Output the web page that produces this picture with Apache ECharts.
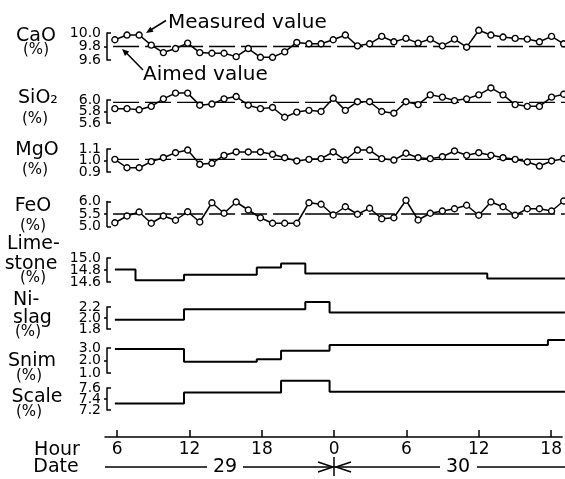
<!DOCTYPE html>
<html><head><meta charset="utf-8">
<script src="https://cdn.jsdelivr.net/npm/echarts@6/dist/echarts.min.js"></script>
<style>html,body{margin:0;padding:0;background:#fff}#c{width:565px;height:479px}</style>
</head><body><div id="c"></div>
<script>
// measurement hours (hours from 0:00 on the 29th)
const hours = [5.8,6.8,7.8,8.8,9.8,10.8,11.8,12.8,13.8,14.8,15.8,16.8,17.8,18.8,19.8,20.8,21.8,22.8,23.8,24.8,25.8,26.8,27.8,28.8,29.8,30.8,31.8,32.8,33.8,34.8,35.8,36.8,37.8,38.8,39.8,40.8,41.8,42.8];
const caoValues = [9.90,9.97,9.97,9.82,9.71,9.77,9.85,9.71,9.70,9.70,9.65,9.77,9.64,9.64,9.72,9.86,9.84,9.84,9.90,9.97,9.81,9.84,9.95,9.87,9.92,9.85,9.91,9.81,9.91,9.79,10.04,9.97,9.94,9.92,9.91,9.87,9.95,9.84];
const sio2Values = [5.85,5.85,5.83,5.89,6.02,6.12,6.12,5.91,5.93,6.02,6.06,5.91,5.85,5.87,5.70,5.79,5.82,5.80,6.03,5.82,5.97,5.97,5.80,5.77,5.97,5.92,6.09,6.05,5.99,6.02,6.09,6.21,6.09,5.92,5.89,5.89,6.05,6.10];
const mgoValues = [1.010,0.937,0.937,0.990,1.024,1.068,1.091,0.967,0.976,1.045,1.074,1.074,1.074,1.054,1.024,0.996,1.010,1.016,1.074,1.004,1.091,1.091,1.016,1.004,1.063,1.024,1.016,1.033,1.083,1.045,1.068,1.045,1.024,1.010,0.987,0.952,0.996,1.016];
const feoValues = [5.15,5.42,5.58,5.13,5.42,5.25,5.59,5.18,5.95,5.53,5.98,5.66,5.35,5.13,5.13,5.13,5.95,5.89,5.46,5.79,5.49,5.73,5.31,5.35,6.05,5.26,5.53,5.62,5.71,5.85,5.45,5.98,5.79,5.45,5.71,5.71,5.62,6.02];
const aimed = {CaO: 9.80, SiO2: 5.96, MgO: 1.01, FeO: 5.5};
const aimedSpan = [5.65, 42.9];

// step inputs: change hours and levels
const limestoneHours = [5.8,7.5,11.5,17.5,19.5,21.5,36.5,42.9];
const limestoneValues = [14.81,14.63,14.72,14.84,14.91,14.74,14.66,14.66];
const nislagHours = [5.8,11.5,21.5,23.5,42.9];
const nislagValues = [1.97,2.16,2.29,2.10,2.10];
const snimHours = [5.8,11.5,17.5,19.5,23.5,41.5,42.9];
const snimValues = [2.92,1.91,2.10,2.79,3.24,3.64,3.64];
const scaleHours = [5.8,11.5,19.5,23.5,42.9];
const scaleValues = [7.32,7.52,7.73,7.53,7.53];

// y tick labels per panel (min, mid, max)
const yTicks = [
  [9.6,9.8,10.0],[5.6,5.8,6.0],[0.9,1.0,1.1],[5.0,5.5,6.0],
  [14.6,14.8,15.0],[1.8,2.0,2.2],[1.0,2.0,3.0],[7.2,7.4,7.6]
];
const hourTicks = [6,12,18,24,30,36,42];

const FONT = 'DejaVu Sans';
const layout = [[33,27],[100,23],[149,23],[201.5,25],[258,24],[307,22],[348,25],[388,22]];
const xMin = 5.151, xMax = 42.909;

const grids = [], xAxes = [], yAxes = [], series = [];
const labelStyle = {color:'#000', fontSize:14, fontFamily:FONT, margin:6, formatter:v=>Number(v).toFixed(1)};
layout.forEach((g,i)=>{
  grids.push({left:107, right:0, top:g[0], height:g[1]});
  xAxes.push({type:'value', gridIndex:i, min:xMin, max:xMax, show:false});
});
layout.forEach((g,i)=>{
  const t = yTicks[i];
  yAxes.push({type:'value', gridIndex:i, min:t[0], max:t[2],
    axisLine:{show:true, lineStyle:{color:'#000', width:1.5}},
    axisTick:{show:true, inside:true, length:4, customValues:[t[0],t[2]], lineStyle:{color:'#000', width:1.5}},
    axisLabel:Object.assign({show:true, customValues:[t[0],t[2]], showMinLabel:true, showMaxLabel:true}, labelStyle),
    splitLine:{show:false}});
});
// secondary axes carrying the middle label of each panel
layout.forEach((g,i)=>{
  const t = yTicks[i];
  yAxes.push({type:'value', gridIndex:i, min:t[0], max:t[2], position:'left',
    axisLine:{show:false},
    axisTick:{show:true, inside:false, length:3, customValues:[t[1]], lineStyle:{color:'#000', width:1.5}},
    axisLabel:Object.assign({show:true, customValues:[t[1]]}, labelStyle, {margin:6}),
    splitLine:{show:false}});
});
grids.push({left:105, right:0, top:436, height:1});
xAxes.push({type:'value', gridIndex:8, min:4.986, max:42.909, position:'bottom',
  axisLine:{show:true, onZero:false, lineStyle:{color:'#000', width:1.5}},
  axisTick:{show:true, inside:true, length:7, customValues:hourTicks, lineStyle:{color:'#000', width:1.5}},
  axisLabel:{show:true, customValues:hourTicks, formatter:v=>String(v%24), color:'#000', fontSize:17, fontFamily:FONT, margin:4},
  splitLine:{show:false}});
yAxes.push({type:'value', gridIndex:8, min:0, max:1, show:false});

function pairs(xs, ys){ return xs.map((x,k)=>[x, ys[k]]); }
const measured = [caoValues, sio2Values, mgoValues, feoValues];
const aimKeys = ['CaO','SiO2','MgO','FeO'];
measured.forEach((vals,i)=>{
  series.push({type:'line', xAxisIndex:i, yAxisIndex:i, silent:true, clip:false, z:1,
    data: aimedSpan.map(x=>[x, aimed[aimKeys[i]]]), symbol:'none',
    lineStyle:{color:'#000', width:1.3, type:[26,6]}});
  series.push({type:'line', xAxisIndex:i, yAxisIndex:i, silent:true, clip:false, z:2,
    data: pairs(hours, vals), symbol:'circle', symbolSize:6,
    itemStyle:{color:'#fff', borderColor:'#000', borderWidth:1.4},
    lineStyle:{color:'#000', width:1.5}});
});
const steps = [[limestoneHours,limestoneValues],[nislagHours,nislagValues],[snimHours,snimValues],[scaleHours,scaleValues]];
steps.forEach((s,k)=>{
  const i = k+4;
  series.push({type:'line', xAxisIndex:i, yAxisIndex:i, silent:true, clip:false, step:'end',
    data: pairs(s[0], s[1]), symbol:'none', lineStyle:{color:'#000', width:2}});
});

function txt(x,y,t,size,align){ return {type:'text', x:x, y:y, style:{text:t, fontSize:size, fontFamily:FONT, fill:'#000', align:align||'center', verticalAlign:'middle'}}; }
function ln(x1,y1,x2,y2,w){ return {type:'line', shape:{x1,y1,x2,y2}, style:{stroke:'#000', lineWidth:w||1.5}}; }
function poly(pts){ return {type:'polyline', shape:{points:pts}, style:{stroke:'#000', lineWidth:1.5, fill:null}}; }
const graphic = [
  txt(36,36,'CaO',19), txt(36,50,'(%)',15),
  txt(38,98,'SiO₂',19), txt(35,119,'(%)',15),
  txt(37,150,'MgO',19), txt(35,170,'(%)',15),
  txt(33,206,'FeO',19), txt(33,226,'(%)',15),
  txt(7,244,'Lime-',19,'left'), txt(31,264,'stone',19), txt(33,278,'(%)',15),
  txt(13,300,'Ni-',19,'left'), txt(13,318,'slag',19,'left'), txt(28,332,'(%)',15),
  txt(32,361,'Snim',19), txt(29,376,'(%)',15),
  txt(37,397,'Scale',19), txt(29,412,'(%)',15),
  txt(57,450,'Hour',19), txt(56,467,'Date',19),
  txt(168,23,'Measured value',20,'left'),
  txt(143,75,'Aimed value',20,'left'),
  ln(166,20.5,149,31),
  {type:'polygon', shape:{points:[[146,33],[150.3,26.8],[153.5,31.8]]}, style:{fill:'#000'}},
  ln(143,70,125.5,52),
  {type:'polygon', shape:{points:[[122,49],[129.2,51.6],[125.0,56.0]]}, style:{fill:'#000'}},
  // date row
  ln(105,467,207,467), txt(225,467,'29',19),
  ln(243,467,334,467), poly([[318,462],[333,467],[318,472]]),
  ln(334,457,334,476), poly([[351,462],[336,467],[351,472]]),
  ln(335,467,440,467), txt(458,467,'30',19), ln(477,467,565,467)
];

const chart = echarts.init(document.getElementById('c'), null, {renderer:'canvas'});
chart.setOption({animation:false, backgroundColor:'#fff', grid:grids, xAxis:xAxes, yAxis:yAxes, series:series, graphic:graphic});
</script></body></html>
